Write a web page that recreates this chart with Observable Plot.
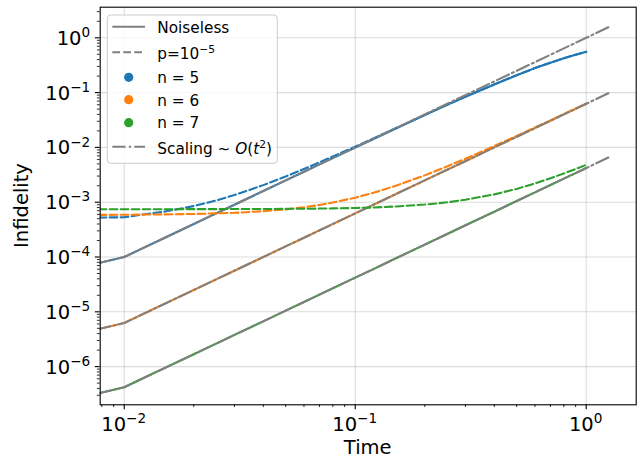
<!DOCTYPE html>
<html><head><meta charset="utf-8">
<script src="https://cdn.jsdelivr.net/npm/d3@7"></script>
<script src="https://cdn.jsdelivr.net/npm/@observablehq/plot@0.6"></script>
<style>
body{margin:0;background:#fff;}
#chart{width:641px;height:459px;}
svg text{font-family:"DejaVu Sans",sans-serif;}
</style></head><body><div id="chart"></div>
<script>
// ---- data ----
const times = [0.005, 0.01, 0.0125, 0.015, 0.02, 0.025, 0.03, 0.04, 0.05, 0.06, 0.07, 0.08, 0.1, 0.12, 0.15, 0.2, 0.25, 0.3, 0.4, 0.5, 0.6, 0.7, 0.8, 0.9, 1.0];
const noiseless_n5 = [5.0e-5, 1.0e-4, 1.56e-4, 2.25e-4, 4.0e-4, 6.25e-4, 9.0e-4, 1.6e-3, 2.5e-3, 3.6e-3, 4.9e-3, 6.4e-3, 9.9e-3, 0.0142, 0.0221, 0.0388, 0.0596, 0.0839, 0.141, 0.208, 0.28, 0.352, 0.423, 0.492, 0.555];
const noisy_n5 = [5.2e-4, 5.3e-4, 6.1e-4, 6.75e-4, 8.5e-4, 1.075e-3, 1.35e-3, 2.05e-3, 2.95e-3, 4.05e-3, 5.35e-3, 6.85e-3, 0.0103, 0.0146, 0.0225, 0.0392, 0.06, 0.0843, 0.1414, 0.2084, 0.2804, 0.3524, 0.4234, 0.4924, 0.5554];
const noiseless_n6 = [3.13e-6, 6.25e-6, 9.8e-6, 1.41e-5, 2.5e-5, 3.9e-5, 5.6e-5, 1.0e-4, 1.56e-4, 2.25e-4, 3.06e-4, 4.0e-4, 6.25e-4, 9.0e-4, 1.41e-3, 2.5e-3, 3.9e-3, 5.6e-3, 0.01, 0.0156, 0.0225, 0.0306, 0.04, 0.0506, 0.0625];
const noisy_n6 = [5.8e-4, 5.9e-4, 5.95e-4, 6.0e-4, 6.1e-4, 6.25e-4, 6.4e-4, 6.85e-4, 7.4e-4, 8.1e-4, 8.9e-4, 9.85e-4, 1.21e-3, 1.49e-3, 2.0e-3, 3.09e-3, 4.5e-3, 6.2e-3, 0.0106, 0.0162, 0.0231, 0.0312, 0.0406, 0.0512, 0.0631];
const noiseless_n7 = [2.1e-7, 4.2e-7, 6.6e-7, 9.5e-7, 1.68e-6, 2.63e-6, 3.8e-6, 6.7e-6, 1.05e-5, 1.51e-5, 2.06e-5, 2.69e-5, 4.2e-5, 6.0e-5, 9.5e-5, 1.68e-4, 2.63e-4, 3.8e-4, 6.7e-4, 1.05e-3, 1.51e-3, 2.06e-3, 2.69e-3, 3.4e-3, 4.2e-3];
const noisy_n7 = [7.45e-4, 7.45e-4, 7.45e-4, 7.46e-4, 7.47e-4, 7.48e-4, 7.5e-4, 7.52e-4, 7.55e-4, 7.6e-4, 7.65e-4, 7.72e-4, 7.85e-4, 8.0e-4, 8.35e-4, 9.05e-4, 9.95e-4, 1.11e-3, 1.39e-3, 1.75e-3, 2.2e-3, 2.73e-3, 3.35e-3, 4.03e-3, 4.8e-3];
const scaleTimes = [0.005, 0.01, 1.25];
const scaling_n5 = [5.0e-5, 1.0e-4, 1.5625];
const scaling_n6 = [3.13e-6, 6.25e-6, 0.0977];
const scaling_n7 = [2.1e-7, 4.2e-7, 0.00656];
const seriesNames = ["n = 5", "n = 6", "n = 7"];
const majorX = [0.01, 0.1, 1];
const majorY = [1e-6, 1e-5, 1e-4, 1e-3, 1e-2, 1e-1, 1];
const xLabel = "Time";
const yLabel = "Infidelity";

// ---- build ----
const colors = ["#1f77b4", "#ff7f0e", "#2ca02c"];
const gray = "#808080";
const lw = 2.08;
const dashed = "7.7,3.3";
const dashdot = "13.3,3.3,2.1,3.3";

const minorX = [];
[0.001, 0.01, 0.1, 1].forEach(d => { for (let k = 2; k <= 9; k++) { const v = d * k; if (v >= 0.00787 && v <= 1.646) minorX.push(v); } });
const minorY = [];
[1e-7, 1e-6, 1e-5, 1e-4, 1e-3, 1e-2, 1e-1, 1].forEach(d => { for (let k = 2; k <= 9; k++) { const v = d * k; if (v >= 2.01e-7 && v <= 3.617) minorY.push(v); } });

const toRows = (ts, vs) => ts.map((t, i) => ({t, v: vs[i]}));
const groups = [
  [noiseless_n5, noisy_n5, scaling_n5],
  [noiseless_n6, noisy_n6, scaling_n6],
  [noiseless_n7, noisy_n7, scaling_n7]
];
const lineMarks = [];
groups.forEach(([nl, ny, sc], i) => {
  lineMarks.push(Plot.line(toRows(times, nl), {x: "t", y: "v", stroke: colors[i], strokeWidth: lw, clip: true, strokeLinejoin: "round"}));
  lineMarks.push(Plot.line(toRows(times, ny), {x: "t", y: "v", stroke: colors[i], strokeWidth: lw, strokeDasharray: dashed, clip: true, strokeLinejoin: "round"}));
  lineMarks.push(Plot.line(toRows(scaleTimes, sc), {x: "t", y: "v", stroke: gray, strokeWidth: lw, strokeDasharray: dashdot, clip: true}));
});

const plot = Plot.plot({
  width: 641, height: 459,
  marginLeft: 99.7, marginRight: 5.3, marginTop: 6.7, marginBottom: 54.7,
  x: {type: "log", domain: [0.00787, 1.646], label: null},
  y: {type: "log", domain: [2.01e-7, 3.617], label: null},
  style: {fontFamily: "DejaVu Sans", fontSize: "19.5px", background: "white", color: "black"},
  marks: [
    Plot.gridX(majorX, {stroke: "#b0b0b0", strokeOpacity: 0.45, strokeWidth: 1.1}),
    Plot.gridY(majorY, {stroke: "#b0b0b0", strokeOpacity: 0.45, strokeWidth: 1.1}),
    ...lineMarks,
    Plot.frame({stroke: "black", strokeWidth: 1.1}),
    Plot.axisX(majorX, {tickSize: 4.9, strokeWidth: 1.1, tickFormat: () => "", label: null}),
    Plot.axisX(minorX, {tickSize: 2.8, strokeWidth: 0.83, tickFormat: () => "", label: null}),
    Plot.axisY(majorY, {tickSize: 4.9, strokeWidth: 1.1, tickFormat: () => "", label: null}),
    Plot.axisY(minorY, {tickSize: 2.8, strokeWidth: 0.83, tickFormat: () => "", label: null})
  ]
});
document.getElementById("chart").appendChild(plot);

const sx = plot.scale("x"), sy = plot.scale("y");
const svg = d3.select(plot);
const FS = 19.5, SUP = 13.6;
function pow10(sel, v, supShift, supSize) {
  const e = Math.round(Math.log10(v));
  sel.append("tspan").text("10");
  sel.append("tspan").attr("font-size", supSize).attr("dy", -supShift).text((e < 0 ? "\u2212" : "") + Math.abs(e));
}
const tl = svg.append("g").attr("fill", "black").attr("font-size", FS);
majorX.forEach(v => {
  const t = tl.append("text").attr("x", sx.apply(v)).attr("y", 431).attr("text-anchor", "middle");
  pow10(t, v, 7.7, SUP);
});
majorY.forEach(v => {
  const t = tl.append("text").attr("x", 90.2).attr("y", sy.apply(v) + 7.4).attr("text-anchor", "end");
  pow10(t, v, 7.7, SUP);
});
tl.append("text").attr("x", (99.7 + 635.7) / 2).attr("y", 454.3).attr("text-anchor", "middle").text(xLabel);
tl.append("text").attr("transform", `translate(27.5,${(6.7 + 404.3) / 2}) rotate(-90)`).attr("text-anchor", "middle").text(yLabel);

// ---- legend ----
const lg = svg.append("g").attr("font-size", 15.3).attr("fill", "black").attr("text-anchor", "start");
lg.append("rect").attr("x", 107.3).attr("y", 15).attr("width", 170).attr("height", 148.3).attr("rx", 3.5)
  .attr("fill", "white").attr("fill-opacity", 0.8).attr("stroke", "#cccccc").attr("stroke-width", 1);
const hy = [26.7, 52.3, 77.3, 99.7, 122.7, 146.7];
const by = [33.1, 59.2, 83.3, 105.7, 128.4, 154];
const hx1 = 112.3, hx2 = 145, tx = 157.3;
lg.append("line").attr("x1", hx1).attr("x2", hx2).attr("y1", hy[0]).attr("y2", hy[0]).attr("stroke", gray).attr("stroke-width", lw);
lg.append("line").attr("x1", hx1).attr("x2", hx2).attr("y1", hy[1]).attr("y2", hy[1]).attr("stroke", gray).attr("stroke-width", lw).attr("stroke-dasharray", dashed);
[0, 1, 2].forEach(i => lg.append("circle").attr("cx", 128.7).attr("cy", hy[2 + i]).attr("r", 4.6).attr("fill", colors[i]));
lg.append("line").attr("x1", hx1).attr("x2", hx2).attr("y1", hy[5]).attr("y2", hy[5]).attr("stroke", gray).attr("stroke-width", lw).attr("stroke-dasharray", dashdot);
lg.append("text").attr("x", tx).attr("y", by[0]).attr("text-anchor", "start").text("Noiseless");
const p = lg.append("text").attr("x", tx).attr("y", by[1]).attr("text-anchor", "start");
p.append("tspan").text("p=10");
p.append("tspan").attr("font-size", 10.7).attr("dy", -6).text("\u22125");
seriesNames.forEach((s, i) => lg.append("text").attr("x", tx).attr("y", by[2 + i]).attr("text-anchor", "start").text(s));
const sc = lg.append("text").attr("x", tx).attr("y", by[5]).attr("text-anchor", "start");
sc.append("tspan").text("Scaling ");
sc.append("tspan").text("\u223C ");
sc.append("tspan").attr("font-style", "italic").text("O");
sc.append("tspan").text("(");
sc.append("tspan").attr("font-style", "italic").text("t");
sc.append("tspan").attr("font-size", 10.7).attr("dy", -6).text("2");
sc.append("tspan").attr("dy", 6).text(")");
</script>
</body></html>
